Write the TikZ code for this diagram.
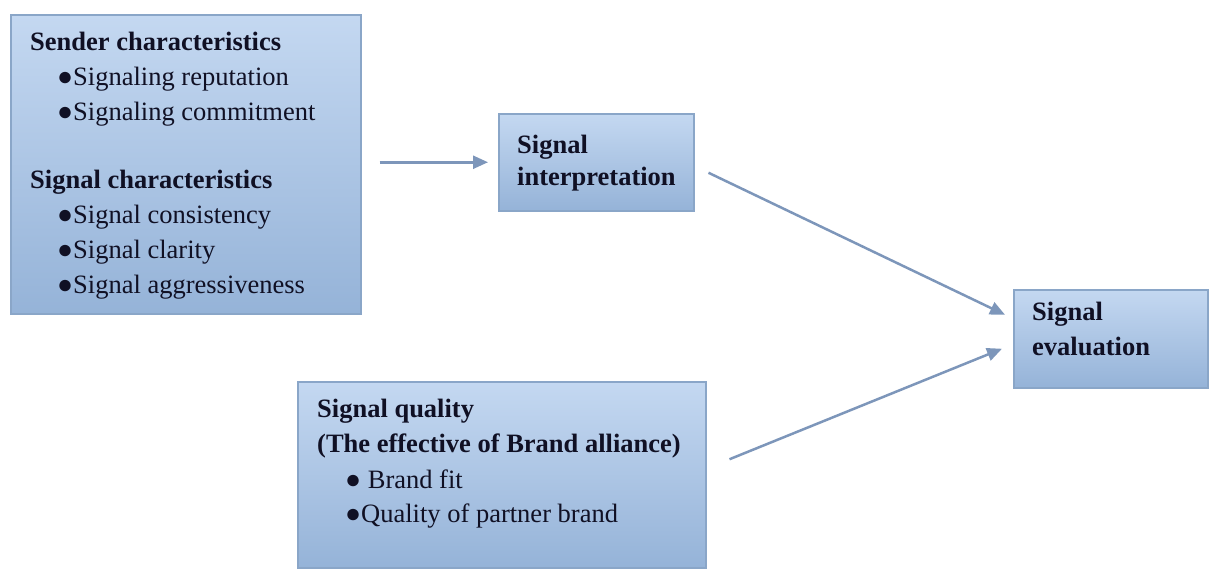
\documentclass[tikz,border=0pt]{standalone}
\usepackage{fontspec}
\setmainfont{Liberation Serif}
\usetikzlibrary{arrows.meta,shadows}
\definecolor{boxtop}{HTML}{C4D8F1}
\definecolor{boxbot}{HTML}{95B3D8}
\definecolor{boxline}{HTML}{8AA6C8}
\definecolor{arrowc}{HTML}{7D96BA}
\definecolor{txt}{HTML}{101024}
\begin{document}
\begin{tikzpicture}[x=1pt,y=-1pt,
  panel/.style={rectangle, draw=boxline, line width=1.5pt, top color=boxtop, bottom color=boxbot,
    inner sep=0pt, anchor=north west,
    drop shadow={opacity=0.25, shadow xshift=1.5pt, shadow yshift=-1.5pt}},
  ln/.style={anchor=base west, inner sep=0pt, text=txt, font=\fontsize{26.5}{32}\selectfont},
  hd/.style={ln, font=\fontsize{26.5}{32}\selectfont\bfseries},
  arr/.style={draw=arrowc, line width=2.5pt, -{Triangle[length=15pt,width=13pt]}}]
\useasboundingbox (0,0) rectangle (1211,570);

% boxes
\node[panel, minimum width=350pt, minimum height=299pt] (sender) at (10,14) {};
\node[panel, minimum width=195pt, minimum height=97pt] (interp) at (498,113) {};
\node[panel, minimum width=194pt, minimum height=98pt] (eval) at (1013,289) {};
\node[panel, minimum width=408pt, minimum height=186pt] (quality) at (297,381) {};

% box 1 text
\node[hd] (s1) at (30,50) {Sender characteristics};
\node[ln] (s2) at (57,85) {●Signaling reputation};
\node[ln] (s3) at (57,120) {●Signaling commitment};
\node[hd] (s4) at (30,188) {Signal characteristics};
\node[ln] (s5) at (57,223) {●Signal consistency};
\node[ln] (s6) at (57,258) {●Signal clarity};
\node[ln] (s7) at (57,293) {●Signal aggressiveness};

% box 2 text
\node[hd] (i1) at (517,153) {Signal};
\node[hd] (i2) at (517,185) {interpretation};

% box 4 text
\node[hd] (e1) at (1032,320) {Signal};
\node[hd] (e2) at (1032,355) {evaluation};

% box 3 text
\node[hd] (q1) at (317,417) {Signal quality};
\node[hd] (q2) at (317,452) {(The effective of Brand alliance)};
\node[ln] (q3) at (345,488) {● Brand fit};
\node[ln] (q4) at (345,522) {●Quality of partner brand};

% connectors
\draw[arr, shorten <=18pt, shorten >=10pt] (sender.east |- interp.west) -- (interp.west);
\draw[arr] ([shift={(14,10.5)}]interp.east) -- ([shift={(-8,-24)}]eval.west);
\draw[arr] ([shift={(23,-15.5)}]quality.east) -- ([shift={(-11,10)}]eval.west);
\end{tikzpicture}
\end{document}
